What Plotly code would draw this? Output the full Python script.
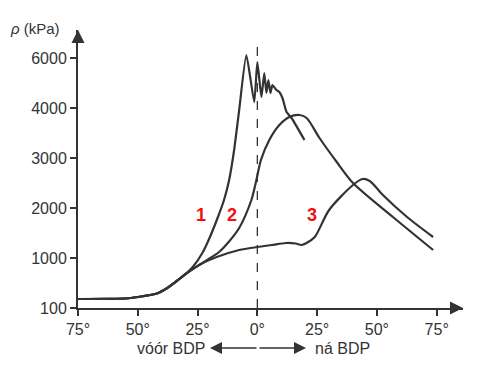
import plotly.graph_objects as go

# crank angle (deg, negative = before TDC) and pressure in axis units
angle_1 = [-75, -62, -54, -48, -42, -38, -34, -30, -27, -23, -20, -16.8, -14, -11.8, -9.7, -7.6, -4.6,
           -1.3, 0, 1.7, 2.9, 3.8, 4.6, 5.5, 6.3, 8, 9.2, 10.5, 12.2, 14.3, 19.7]
p_1 = [180, 182, 195, 235, 290, 390, 530, 680, 820, 1100, 1400, 1780, 2150, 2560, 3160, 3960, 5060,
       4120, 4920, 4220, 4700, 4300, 4560, 4300, 4460, 4360, 4320, 4200, 3920, 3800, 3360]

angle_2 = [-75, -62, -54, -48, -42, -38, -34, -30, -24, -20, -16, -12, -7.6, -2.5, -0.4,
           1.5, 5, 9.2, 13.4, 17.6, 20.6, 26, 33.2, 40, 56.7, 73.5]
p_2 = [180, 182, 195, 235, 290, 390, 530, 680, 870, 990, 1120, 1320, 1600, 2160, 2560,
       2960, 3360, 3660, 3820, 3860, 3800, 3400, 2920, 2500, 1820, 1160]

angle_3 = [-75, -62, -54, -48, -42, -38, -34, -30, -24, -17, -7.6, 0, 6, 12, 16, 18.5,
           20.6, 24, 30, 40, 44, 47, 52.5, 62.6, 73.5]
p_3 = [180, 182, 195, 235, 290, 390, 530, 680, 870, 1020, 1160, 1220, 1260, 1300, 1290, 1260,
       1300, 1420, 1960, 2460, 2580, 2540, 2260, 1820, 1420]

x_ticks = [-75, -50, -25, 0, 25, 50, 75]
x_tick_labels = ["75°", "50°", "25°", "0°", "25°", "50°", "75°"]
y_ticks = [0, 1000, 2000, 3000, 4000, 5000]
y_tick_labels = ["100", "1000", "2000", "3000", "4000", "6000"]

curve_labels = ["1", "2", "3"]
label_pos = [(-23.5, 1860), (-10.5, 1860), (23, 1860)]

ink = "#333333"
font = dict(family="Liberation Sans, Arial, sans-serif", size=16, color=ink)

fig = go.Figure()
for ang, p, shp in [(angle_1, p_1, 0.5), (angle_2, p_2, 0.8), (angle_3, p_3, 0.8)]:
    fig.add_trace(go.Scatter(x=ang, y=p, mode="lines",
                             line=dict(color=ink, width=2.2, shape="spline", smoothing=shp),
                             showlegend=False, hoverinfo="skip"))

fig.add_shape(type="line", x0=0, x1=0, y0=0, y1=5400,
              line=dict(color=ink, width=1.3, dash="dash"))

# axis arrowheads
fig.add_annotation(x=86, y=0, ax=-14, ay=0, showarrow=True, arrowhead=2,
                   arrowsize=1.3, arrowwidth=2, arrowcolor=ink, text="")
fig.add_annotation(x=-75, y=5560, ax=0, ay=14, showarrow=True, arrowhead=2,
                   arrowsize=1.3, arrowwidth=2, arrowcolor=ink, text="")

for t, (lx, ly) in zip(curve_labels, label_pos):
    fig.add_annotation(x=lx, y=ly, text="<b>%s</b>" % t, showarrow=False,
                       font=dict(family="Liberation Sans, Arial, sans-serif", size=18, color="#ee1111"))

# y axis title
fig.add_annotation(xref="paper", yref="paper", x=(8 - 78) / 385, y=(308 - 28) / 278,
                   xanchor="left", yanchor="middle", text="<i>ρ</i> (kPa)",
                   showarrow=False, font=dict(family="Liberation Sans, Arial, sans-serif", size=15, color=ink))

# bottom caption with double arrow
fig.add_annotation(xref="paper", yref="paper", x=(207 - 78) / 385, y=-40 / 278,
                   xanchor="right", yanchor="middle", text="vóór BDP", showarrow=False, font=font)
fig.add_annotation(xref="paper", yref="paper", x=(313 - 78) / 385, y=-40 / 278,
                   xanchor="left", yanchor="middle", text="ná BDP", showarrow=False, font=font)
fig.add_annotation(xref="paper", yref="paper", x=(210 - 78) / 385, y=-40 / 278,
                   axref="pixel", ayref="pixel", ax=48, ay=0, showarrow=True, arrowhead=2,
                   arrowsize=1.6, arrowwidth=1.5, arrowcolor=ink, text="")
fig.add_annotation(xref="paper", yref="paper", x=(306 - 78) / 385, y=-40 / 278,
                   axref="pixel", ayref="pixel", ax=-48, ay=0, showarrow=True, arrowhead=2,
                   arrowsize=1.6, arrowwidth=1.5, arrowcolor=ink, text="")

fig.update_layout(
    width=479, height=384,
    margin=dict(l=70, r=24, t=22, b=84),
    paper_bgcolor="white", plot_bgcolor="white",
    font=font,
    xaxis=dict(range=[-75, 86], tickvals=x_ticks, ticktext=x_tick_labels,
               showgrid=False, zeroline=False, showline=True, linecolor=ink, linewidth=2,
               ticks="outside", ticklen=6, tickwidth=2, tickcolor=ink, fixedrange=True),
    yaxis=dict(range=[0, 5560], tickvals=y_ticks, ticktext=y_tick_labels,
               showgrid=False, zeroline=False, showline=True, linecolor=ink, linewidth=2,
               ticks="outside", ticklen=6, tickwidth=2, tickcolor=ink, fixedrange=True),
)

fig.write_html("out.html")
